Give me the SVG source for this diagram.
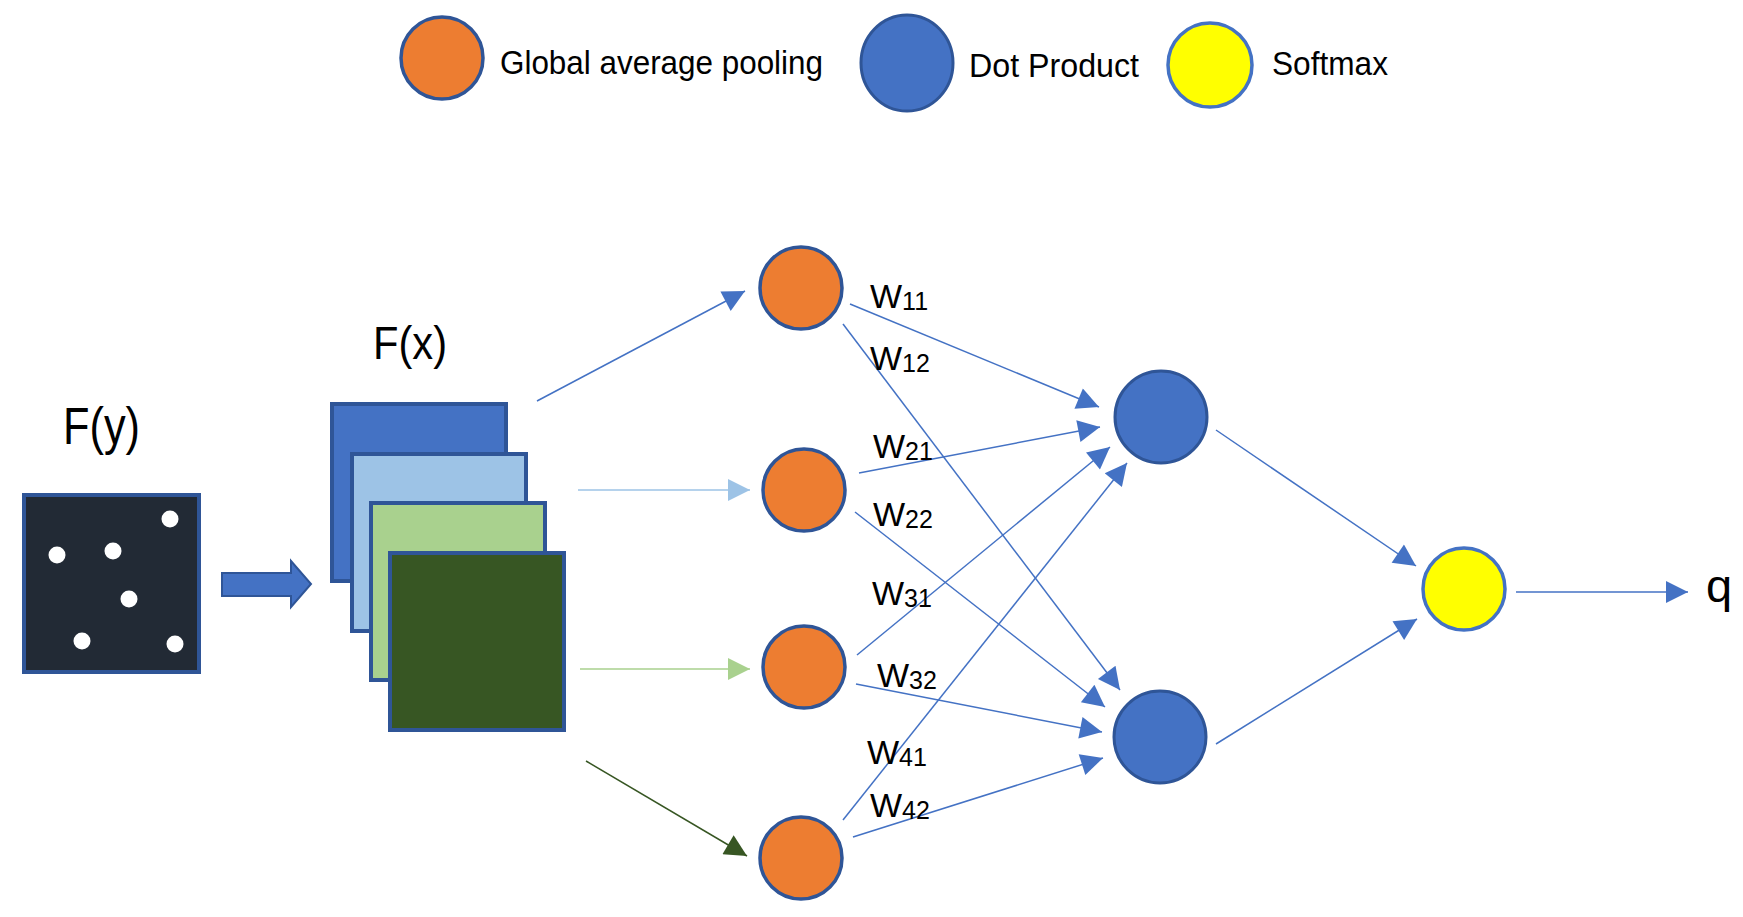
<svg xmlns="http://www.w3.org/2000/svg" width="1743" height="917" viewBox="0 0 1743 917">
<defs>
<style>
.txt{font-family:"Liberation Sans",Arial,sans-serif;fill:#000}
.gap{fill:#ED7D31;stroke:#2F5597;stroke-width:3.5}
.dot{fill:#4472C4;stroke:#2F5597;stroke-width:3}
.soft{fill:#FFFF00;stroke:#4472C4;stroke-width:3.5}
.w{font-family:"Liberation Sans",Arial,sans-serif;font-size:34px;fill:#000}
.sub{font-size:25px}
.ln{fill:none;stroke:#4472C4;stroke-width:1.5}
.sq{stroke:#2F5597;stroke-width:4}
</style>
<marker id="ab" viewBox="0 0 10 10" refX="10" refY="5" markerUnits="userSpaceOnUse" markerWidth="26" markerHeight="22" orient="auto"><path d="M0,0 L10,5 L0,10 z" fill="#4472C4"/></marker>
<marker id="alb" viewBox="0 0 10 10" refX="10" refY="5" markerUnits="userSpaceOnUse" markerWidth="26" markerHeight="22" orient="auto"><path d="M0,0 L10,5 L0,10 z" fill="#9DC3E6"/></marker>
<marker id="alg" viewBox="0 0 10 10" refX="10" refY="5" markerUnits="userSpaceOnUse" markerWidth="26" markerHeight="22" orient="auto"><path d="M0,0 L10,5 L0,10 z" fill="#A9D18E"/></marker>
<marker id="adg" viewBox="0 0 10 10" refX="10" refY="5" markerUnits="userSpaceOnUse" markerWidth="26" markerHeight="22" orient="auto"><path d="M0,0 L10,5 L0,10 z" fill="#375623"/></marker>
</defs>
<rect width="1743" height="917" fill="#fff"/>

<g id="legend">
<circle class="gap" cx="442" cy="58" r="41"/>
<text class="txt" x="500" y="74" font-size="34" textLength="323" lengthAdjust="spacingAndGlyphs">Global average pooling</text>
<ellipse class="dot" cx="907" cy="63" rx="46" ry="48"/>
<text class="txt" x="969" y="77" font-size="34" textLength="170" lengthAdjust="spacingAndGlyphs">Dot Product</text>
<ellipse class="soft" cx="1210" cy="65" rx="42" ry="42"/>
<text class="txt" x="1272" y="75" font-size="34" textLength="116" lengthAdjust="spacingAndGlyphs">Softmax</text>
</g>

<g id="Fy">
<text class="txt" x="63" y="444" font-size="51" textLength="77" lengthAdjust="spacingAndGlyphs">F(y)</text>
<rect x="24" y="495" width="175" height="177" fill="#222A35" stroke="#2F5597" stroke-width="4"/>
<g fill="#fff">
<circle cx="57" cy="555" r="8.5"/>
<circle cx="113" cy="551" r="8.5"/>
<circle cx="170" cy="519" r="8.5"/>
<circle cx="129" cy="599" r="8.5"/>
<circle cx="82" cy="641" r="8.5"/>
<circle cx="175" cy="644" r="8.5"/>
</g>
</g>

<g id="blockArrow">
<path d="M222,573 L291,573 L291,561 L311,584 L291,607 L291,596 L222,596 Z" fill="#4472C4" stroke="#2F5597" stroke-width="2"/>
</g>

<g id="Fx">
<text class="txt" x="373" y="359" font-size="47" textLength="74" lengthAdjust="spacingAndGlyphs">F(x)</text>
<rect class="sq" x="332" y="404" width="174" height="177" fill="#4472C4"/>
<rect class="sq" x="352" y="454" width="174" height="177" fill="#9DC3E6"/>
<rect class="sq" x="371" y="503" width="174" height="177" fill="#A9D18E"/>
<rect class="sq" x="390" y="553" width="174" height="177" fill="#375623"/>
</g>

<g id="connectors">
<line class="ln" x1="537" y1="401" x2="745" y2="291" marker-end="url(#ab)"/>
<line x1="578" y1="490" x2="750" y2="490" stroke="#9DC3E6" stroke-width="1.5" marker-end="url(#alb)"/>
<line x1="580" y1="669" x2="750" y2="669" stroke="#A9D18E" stroke-width="1.5" marker-end="url(#alg)"/>
<line x1="586" y1="761" x2="747" y2="856" stroke="#375623" stroke-width="1.5" marker-end="url(#adg)"/>

<line class="ln" x1="850" y1="304" x2="1099" y2="407" marker-end="url(#ab)"/>
<line class="ln" x1="843" y1="324" x2="1120" y2="690" marker-end="url(#ab)"/>
<line class="ln" x1="859" y1="473" x2="1100" y2="427" marker-end="url(#ab)"/>
<line class="ln" x1="855" y1="512" x2="1105" y2="707" marker-end="url(#ab)"/>
<line class="ln" x1="857" y1="655" x2="1110" y2="447" marker-end="url(#ab)"/>
<line class="ln" x1="856" y1="684" x2="1102" y2="732" marker-end="url(#ab)"/>
<line class="ln" x1="843" y1="820" x2="1127" y2="463" marker-end="url(#ab)"/>
<line class="ln" x1="853" y1="837" x2="1103" y2="758" marker-end="url(#ab)"/>

<line class="ln" x1="1216" y1="430" x2="1416" y2="566" marker-end="url(#ab)"/>
<line class="ln" x1="1216" y1="744" x2="1417" y2="619" marker-end="url(#ab)"/>
<line class="ln" x1="1516" y1="592" x2="1688" y2="592" marker-end="url(#ab)"/>
</g>

<g id="labels">
<text class="w" x="870" y="308">W<tspan class="sub" dy="2">11</tspan></text>
<text class="w" x="870" y="370">W<tspan class="sub" dy="2">12</tspan></text>
<text class="w" x="873" y="458">W<tspan class="sub" dy="2">21</tspan></text>
<text class="w" x="873" y="526">W<tspan class="sub" dy="2">22</tspan></text>
<text class="w" x="872" y="605">W<tspan class="sub" dy="2">31</tspan></text>
<text class="w" x="877" y="687">W<tspan class="sub" dy="2">32</tspan></text>
<text class="w" x="867" y="764">W<tspan class="sub" dy="2">41</tspan></text>
<text class="w" x="870" y="817">W<tspan class="sub" dy="2">42</tspan></text>
</g>

<g id="gap1"><circle class="gap" cx="801" cy="288" r="41"/></g>
<g id="gap2"><circle class="gap" cx="804" cy="490" r="41"/></g>
<g id="gap3"><circle class="gap" cx="804" cy="667" r="41"/></g>
<g id="gap4"><circle class="gap" cx="801" cy="858" r="41"/></g>
<g id="dot1"><circle class="dot" cx="1161" cy="417" r="46"/></g>
<g id="dot2"><circle class="dot" cx="1160" cy="737" r="46"/></g>
<g id="softmax"><circle class="soft" cx="1464" cy="589" r="41"/></g>
<g id="out"><text class="txt" x="1706" y="602" font-size="47">q</text></g>
</svg>
